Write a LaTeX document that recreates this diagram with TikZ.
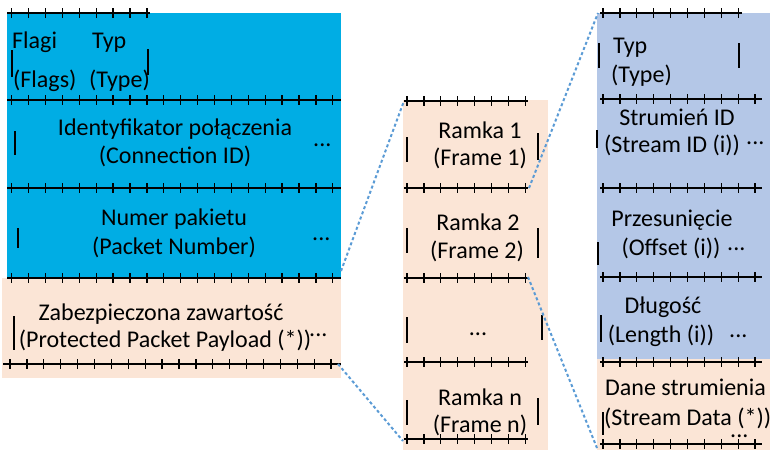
\documentclass[tikz,border=0pt]{standalone}
\usepackage{fontspec}
\setmainfont{Carlito}
\definecolor{skyblue}{HTML}{00ADE4}
\definecolor{paleblue}{HTML}{B4C7E7}
\definecolor{peach}{HTML}{FBE5D6}
\definecolor{dashblue}{HTML}{5B9BD5}
\newcommand\tickrow[5]{%
  \draw[tickline] (#1,#3) -- (#2,#3);
  \foreach \k in {0,...,#5} \draw[tickmark] ({#4+16.9*\k},#3-5) -- ++(0,10);}
\newcommand\fbar[3]{\draw[fieldbar] (#1,#2) -- (#1,#3);}
\begin{document}
\begin{tikzpicture}[x=1pt,y=-1pt,
  tickline/.style={line width=1.9pt,black},
  tickmark/.style={line width=1.3pt,black},
  fieldbar/.style={line width=1.8pt,black},
  txt/.style={inner sep=0pt,font=\fontsize{24}{29}\selectfont,anchor=base},
  txtw/.style={txt,anchor=base west},
  zoomline/.style={dashblue,line width=2pt,dash pattern=on 3pt off 2.5pt}]
\useasboundingbox (0,0) rectangle (770,450);
% ---------- fills
\fill[skyblue] (7,13) rectangle (341,278);
\fill[peach] (2,278) rectangle (341,378);
\fill[peach] (403,100) rectangle (548,450);
\fill[paleblue] (597,13) rectangle (770,359);
\fill[peach] (597,359) rectangle (770,450);
% ---------- left column
\tickrow{7}{150}{13}{11.7}{8}
\tickrow{7}{341}{100}{11.7}{19}
\tickrow{7}{341}{188}{11.7}{19}
\tickrow{7}{341}{278}{11.7}{19}
\tickrow{3}{341}{364}{10}{19}
\node[txtw] (flagi) at (12,48) {Flagi};
\node[txtw] (typ) at (92,48) {Typ};
\node[txtw] (flags) at (13,87) {(Flags)};
\node[txtw] (type) at (89,87) {(Type)};
\fbar{12}{50}{77}\fbar{148}{49}{75}
\node[txt] (cid1) at (175,135) {Identyfikator połączenia};
\node[txt] (cid2) at (175,163) {(Connection ID)};
\node[txtw] (cidd) at (313,146) {...};
\fbar{15}{131}{155}
\node[txt] (pn1) at (174,225) {Numer pakietu};
\node[txt] (pn2) at (174,254) {(Packet Number)};
\node[txtw] (pnd) at (312,240) {...};
\fbar{18}{228}{248}
\node[txt] (pp1) at (161,320) {Zabezpieczona zawartość};
\node[txtw] (ppd) at (309,336) {...};
\node[txt] (pp2) at (165,347) {(Protected Packet Payload (*))};
\fbar{14}{316}{350}
% ---------- middle column
\tickrow{404}{528}{101}{407}{7}
\tickrow{404}{528}{188}{407}{7}
\tickrow{404}{528}{278}{407}{7}
\tickrow{404}{528}{362}{407}{7}
\tickrow{404}{528}{439}{407}{7}
\node[txt] (r1a) at (480,138) {Ramka 1};
\node[txt] (r1b) at (480,165) {(Frame 1)};
\fbar{407}{137}{162}\fbar{538}{133}{160}
\node[txt] (r2a) at (478,230) {Ramka 2};
\node[txt] (r2b) at (477,258) {(Frame 2)};
\fbar{407}{228}{253}\fbar{538}{228}{258}
\node[txt] (rdots) at (478,335) {...};
\fbar{407}{317}{343}\fbar{542}{315}{340}
\node[txt] (rna) at (480,405) {Ramka n};
\node[txt] (rnb) at (480,432) {(Frame n)};
\fbar{407}{400}{425}\fbar{538}{398}{425}
% ---------- right column
\tickrow{600}{742}{13}{603}{8}
\tickrow{600}{762}{99}{603}{9}
\tickrow{600}{762}{188}{603}{9}
\tickrow{600}{762}{277}{603}{9}
\tickrow{600}{762}{362}{603}{9}
\tickrow{600}{762}{444}{603}{9}
\node[txtw] (ftyp) at (613,53) {Typ};
\node[txtw] (ftype) at (611,82) {(Type)};
\fbar{599}{43}{68}\fbar{739}{43}{68}
\node[txt] (sid1) at (677,125) {Strumień ID};
\node[txt] (sid2) at (672,152) {(Stream ID (i))};
\node[txtw] (sidd) at (746,144) {...};
\fbar{597}{130}{148}
\node[txt] (off1) at (672,226) {Przesunięcie};
\node[txt] (off2) at (671,255) {(Offset (i))};
\node[txtw] (offd) at (727,250) {...};
\fbar{598}{242}{265}
\node[txt] (len1) at (663,313) {Długość};
\node[txt] (len2) at (661,342) {(Length (i))};
\node[txtw] (lend) at (729,337) {...};
\fbar{601}{315}{342}
\node[txtw] (sd1) at (605,395) {Dane strumienia};
\node[txtw] (sd2) at (604,425) {(Stream Data (*))};
\node[txtw] (sdd) at (730,437) {...};
\fbar{603}{412}{435}
% ---------- zoom connectors
\coordinate (payTop) at (341,271);
\coordinate (payBot) at (338,364);
\coordinate (frTop) at (404,101);
\coordinate (frBot) at (403,441);
\coordinate (f1Top) at (529,188);
\coordinate (f1Bot) at (528,277);
\coordinate (stTop) at (598,13);
\coordinate (stBot) at (597,448);
\draw[zoomline] (payTop) -- (frTop);
\draw[zoomline] (payBot) -- (frBot);
\draw[zoomline] (f1Top) -- (stTop);
\draw[zoomline] (f1Bot) -- (stBot);
\end{tikzpicture}
\end{document}
